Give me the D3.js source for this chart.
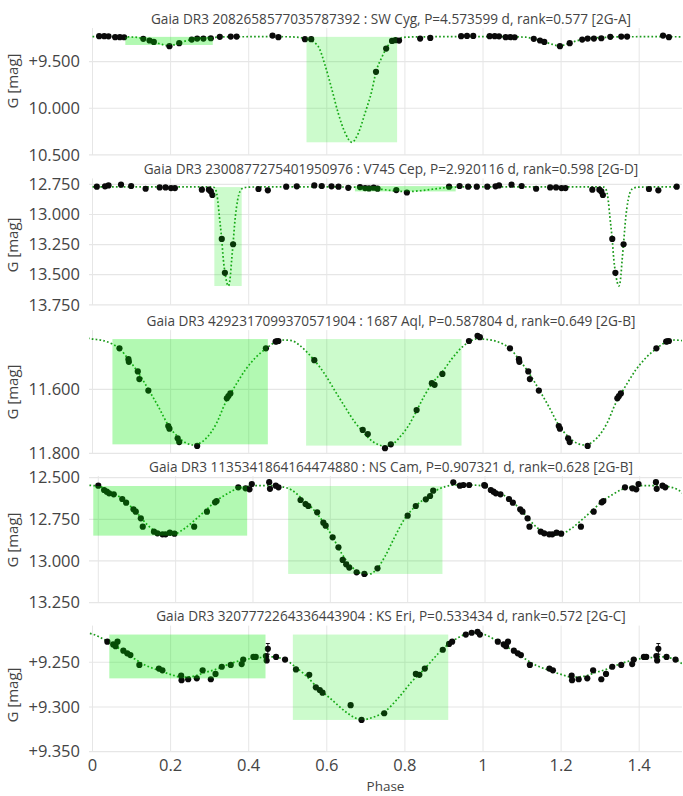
<!DOCTYPE html>
<html><head><meta charset="utf-8">
<script src="https://cdn.jsdelivr.net/npm/d3@7"></script>
<style>body{margin:0;background:#fff} svg{display:block;font-family:"Open Sans",sans-serif}</style>
</head><body><svg id="c" width="683" height="796"></svg>
<script>
// ---------------- data ----------------
const titles = [
  "Gaia DR3 2082658577035787392 : SW Cyg, P=4.573599 d, rank=0.577 [2G-A]",
  "Gaia DR3 2300877275401950976 : V745 Cep, P=2.920116 d, rank=0.598 [2G-D]",
  "Gaia DR3 4292317099370571904 : 1687 Aql, P=0.587804 d, rank=0.649 [2G-B]",
  "Gaia DR3 1135341864164474880 : NS Cam, P=0.907321 d, rank=0.628 [2G-B]",
  "Gaia DR3 3207772264336443904 : KS Eri, P=0.533434 d, rank=0.572 [2G-C]"
];
const xTickValues = [0, 0.2, 0.4, 0.6, 0.8, 1, 1.2, 1.4];
const xTickLabels = ["0", "0.2", "0.4", "0.6", "0.8", "1", "1.2", "1.4"];
const yTickValues = [[9.5, 10, 10.5], [12.75, 13, 13.25, 13.5, 13.75], [11.6, 11.8], [12.5, 12.75, 13, 13.25], [9.25, 9.3, 9.35]];
const yTickLabels = [["+9.500", "10.000", "10.500"], ["12.750", "13.000", "13.250", "13.500", "13.750"], ["11.600", "11.800"], ["12.500", "12.750", "13.000", "13.250"], ["+9.250", "+9.300", "+9.350"]];
const yRanges = [[9.14, 10.5], [12.70, 13.75], [11.415, 11.8], [12.49, 13.25], [9.209, 9.35]];
const xRanges = [[-0.009, 1.5096], [-0.009, 1.5096], [-0.009, 1.5096], [-0.024, 1.5094], [-0.009, 1.5096]];

// observed points (phase 0..1)
const p1Phase = [0.017,0.030,0.041,0.058,0.070,0.081,0.130,0.146,0.157,0.197,0.222,0.254,0.268,0.284,0.303,0.326,0.354,0.369,0.461,0.476,0.544,0.560,0.726,0.752,0.767,0.776,0.785,0.839,0.865,0.944,0.959,0.975];
const p1Mag   = [9.228,9.228,9.229,9.238,9.238,9.239,9.256,9.274,9.289,9.335,9.303,9.264,9.253,9.253,9.250,9.235,9.232,9.232,9.221,9.238,9.260,9.260,9.610,9.360,9.278,9.270,9.275,9.253,9.246,9.228,9.225,9.225];
const p2Phase = [0.011,0.032,0.041,0.073,0.099,0.136,0.172,0.187,0.201,0.211,0.280,0.298,0.303,0.307,0.331,0.339,0.360,0.425,0.449,0.496,0.523,0.568,0.587,0.612,0.630,0.655,0.685,0.698,0.708,0.720,0.730,0.778,0.805,0.913,0.940,0.962,0.984];
const p2Mag   = [12.769,12.766,12.758,12.752,12.763,12.786,12.775,12.775,12.780,12.780,12.794,12.794,12.808,12.838,13.203,13.484,13.247,12.788,12.799,12.769,12.766,12.758,12.763,12.766,12.769,12.778,12.772,12.780,12.783,12.777,12.785,12.797,12.817,12.769,12.763,12.769,12.769];
const p3Phase = [0.069,0.092,0.093,0.116,0.120,0.143,0.194,0.197,0.218,0.222,0.268,0.344,0.348,0.353,0.444,0.469,0.472,0.476,0.568,0.692,0.705,0.749,0.764,0.830,0.869,0.876,0.896,0.964,0.986,0.992];
const p3Mag   = [11.472,11.506,11.514,11.544,11.568,11.604,11.715,11.723,11.753,11.765,11.777,11.628,11.621,11.613,11.472,11.451,11.450,11.449,11.509,11.727,11.740,11.784,11.772,11.665,11.581,11.586,11.552,11.449,11.433,11.437];
const p4Phase = [0.000,0.015,0.022,0.028,0.040,0.062,0.072,0.091,0.097,0.110,0.115,0.144,0.153,0.166,0.174,0.185,0.197,0.248,0.281,0.302,0.306,0.362,0.381,0.391,0.397,0.442,0.444,0.459,0.466,0.523,0.536,0.543,0.566,0.582,0.588,0.606,0.621,0.632,0.641,0.649,0.668,0.688,0.722,0.800,0.821,0.847,0.858,0.866,0.918,0.935,0.944,0.959,0.998];
const p4Mag   = [12.548,12.574,12.584,12.594,12.600,12.628,12.650,12.690,12.704,12.744,12.794,12.824,12.834,12.840,12.840,12.830,12.836,12.794,12.704,12.648,12.640,12.558,12.564,12.570,12.538,12.527,12.567,12.548,12.558,12.634,12.658,12.670,12.708,12.770,12.788,12.858,12.918,12.994,13.020,13.040,13.068,13.078,13.044,12.728,12.670,12.630,12.610,12.578,12.528,12.548,12.544,12.544,12.544];
const p5Phase = [0.038,0.053,0.059,0.064,0.079,0.089,0.097,0.120,0.170,0.179,0.227,0.228,0.245,0.267,0.282,0.303,0.315,0.331,0.354,0.382,0.386,0.412,0.418,0.444,0.446,0.449,0.470,0.493,0.521,0.555,0.572,0.582,0.589,0.661,0.689,0.747,0.828,0.837,0.851,0.897,0.913,0.921,0.956,0.971,0.986,0.992];
const p5Mag   = [9.227,9.230,9.232,9.227,9.237,9.240,9.242,9.253,9.257,9.259,9.265,9.270,9.269,9.268,9.259,9.269,9.263,9.255,9.253,9.252,9.247,9.244,9.244,9.243,9.248,9.235,9.244,9.247,9.258,9.264,9.278,9.281,9.284,9.298,9.3145,9.307,9.263,9.264,9.257,9.236,9.2295,9.227,9.219,9.217,9.216,9.219];
const p5Err   = [0,0,0,0,0,0,0,0,0,0,0,0,0,0,0,0,0,0,0,0,0,0,0,0,0,0.006,0,0,0,0,0,0,0,0.002,0,0,0,0,0,0,0,0,0,0,0,0];

// model curves (phase 0..1)
const m1Phase = [0.000,0.050,0.109,0.130,0.152,0.173,0.197,0.211,0.222,0.237,0.254,0.275,0.305,0.339,0.450,0.500,0.527,0.548,0.566,0.581,0.595,0.612,0.629,0.647,0.664,0.681,0.698,0.715,0.726,0.741,0.752,0.766,0.783,0.805,0.834,0.900,1.000];
const m1Mag   = [9.232,9.233,9.238,9.256,9.281,9.310,9.332,9.318,9.303,9.281,9.264,9.249,9.242,9.235,9.233,9.234,9.240,9.257,9.289,9.360,9.532,9.782,10.050,10.265,10.365,10.265,10.050,9.818,9.610,9.453,9.360,9.282,9.253,9.238,9.235,9.233,9.232];
const m2Phase = [0.000,0.300,0.309,0.3154,0.3205,0.3248,0.3308,0.335,0.3393,0.3436,0.3478,0.3521,0.3564,0.3598,0.365,0.3718,0.3777,0.3863,0.399,0.500,0.672,0.790,0.800,0.930,1.000];
const m2Mag   = [12.770,12.770,12.772,12.794,12.877,13.015,13.203,13.374,13.484,13.561,13.594,13.539,13.374,13.247,13.042,12.877,12.808,12.780,12.772,12.770,12.772,12.808,12.810,12.772,12.770];
const m3Phase = [0.000,0.025,0.050,0.069,0.093,0.116,0.143,0.169,0.194,0.220,0.240,0.256,0.272,0.292,0.318,0.340,0.353,0.370,0.391,0.416,0.444,0.469,0.490,0.510,0.530,0.550,0.568,0.595,0.621,0.647,0.672,0.692,0.710,0.730,0.750,0.770,0.790,0.810,0.830,0.850,0.869,0.896,0.920,0.945,0.970,0.990,1.000];
const m3Mag   = [11.443,11.447,11.458,11.472,11.508,11.546,11.600,11.655,11.712,11.750,11.768,11.774,11.770,11.752,11.705,11.643,11.615,11.580,11.540,11.503,11.473,11.452,11.446,11.448,11.462,11.485,11.509,11.553,11.605,11.656,11.703,11.732,11.756,11.772,11.778,11.770,11.745,11.712,11.667,11.620,11.583,11.545,11.505,11.470,11.448,11.441,11.443];
const m4Phase = [0.000,0.026,0.052,0.078,0.103,0.129,0.155,0.177,0.198,0.224,0.250,0.276,0.302,0.328,0.353,0.379,0.405,0.440,0.474,0.500,0.526,0.552,0.578,0.603,0.629,0.655,0.681,0.698,0.716,0.741,0.767,0.793,0.819,0.845,0.871,0.897,0.922,0.957,0.991,1.000];
const m4Mag   = [12.550,12.580,12.610,12.660,12.720,12.788,12.832,12.846,12.838,12.804,12.754,12.700,12.644,12.604,12.572,12.556,12.548,12.548,12.554,12.574,12.624,12.680,12.754,12.844,12.954,13.034,13.076,13.080,13.060,12.974,12.854,12.744,12.674,12.624,12.580,12.554,12.544,12.544,12.548,12.550];
const m5Phase = [0.000,0.032,0.066,0.100,0.134,0.169,0.203,0.228,0.254,0.288,0.322,0.356,0.390,0.425,0.459,0.493,0.519,0.544,0.578,0.613,0.647,0.672,0.689,0.715,0.749,0.783,0.817,0.851,0.886,0.920,0.954,0.980,1.000];
const m5Mag   = [9.2195,9.225,9.234,9.244,9.253,9.259,9.264,9.2667,9.266,9.2615,9.257,9.251,9.247,9.245,9.244,9.247,9.255,9.264,9.279,9.292,9.305,9.312,9.3145,9.312,9.305,9.290,9.272,9.257,9.240,9.227,9.219,9.217,9.2185];

// eclipse windows: [phaseStart, phaseEnd, magTop, magBottom]; secondary (darker) and primary (lighter)
const secWindows = [[0.084,0.308,9.235,9.322],[0.672,0.930,12.764,12.808],[0.051,0.449,11.443,11.772],[-0.013,0.385,12.550,12.848],[0.043,0.443,9.219,9.268]];
const priWindows = [[0.548,0.780,9.235,10.365],[0.312,0.382,12.772,13.594],[0.547,0.945,11.443,11.776],[0.491,0.890,12.550,13.078],[0.513,0.911,9.219,9.3145]];

// ---------------- layout ----------------
const L = 89, R = 682;
const panelTop = [28, 178.4, 330.1, 476, 625.6];
const panelBottom = [154.9, 304.8, 453.3, 602.6, 751.7];
const yTitleCenter = [81, 245, 392, 540, 695];
const panels = [
  {ph: p1Phase, mg: p1Mag, mph: m1Phase, mmg: m1Mag},
  {ph: p2Phase, mg: p2Mag, mph: m2Phase, mmg: m2Mag},
  {ph: p3Phase, mg: p3Mag, mph: m3Phase, mmg: m3Mag},
  {ph: p4Phase, mg: p4Mag, mph: m4Phase, mmg: m4Mag},
  {ph: p5Phase, mg: p5Mag, mph: m5Phase, mmg: m5Mag, err: p5Err}
];

const svg = d3.select("#c");
const gridColor = "#e6e6e6", textColor = "#444";

panels.forEach((p, i) => {
  const x = d3.scaleLinear().domain(xRanges[i]).range([L, R]);
  const y = d3.scaleLinear().domain(yRanges[i]).range([panelTop[i], panelBottom[i]]);
  const g = svg.append("g");
  const clipId = "clip" + i;
  svg.append("clipPath").attr("id", clipId).append("rect")
    .attr("x", L).attr("y", panelTop[i] - 6).attr("width", R - L).attr("height", panelBottom[i] - panelTop[i] + 8);

  // gridlines
  g.append("g").selectAll("line").data(xTickValues).join("line")
    .attr("x1", d => x(d)).attr("x2", d => x(d))
    .attr("y1", panelTop[i]).attr("y2", panelBottom[i])
    .attr("stroke", gridColor).attr("stroke-width", 1);
  g.append("g").selectAll("line").data(yTickValues[i]).join("line")
    .attr("x1", L).attr("x2", R)
    .attr("y1", d => y(d)).attr("y2", d => y(d))
    .attr("stroke", gridColor).attr("stroke-width", 1.2);

  // y tick labels
  g.append("g").selectAll("text").data(yTickValues[i]).join("text")
    .attr("x", 80).attr("y", d => y(d)).attr("dy", "0.35em")
    .attr("text-anchor", "end").attr("font-size", 16.5).attr("fill", textColor)
    .text((d, k) => yTickLabels[i][k]);

  // y title
  g.append("text").attr("transform", `translate(13,${yTitleCenter[i]}) rotate(-90)`)
    .attr("text-anchor", "middle").attr("dy", "0.35em").attr("font-size", 15).attr("fill", textColor)
    .text("G [mag]");

  // title
  g.append("text").attr("x", 391).attr("y", panelTop[i] - 9).attr("dy", "0.35em")
    .attr("text-anchor", "middle").attr("font-size", 13.6).attr("fill", textColor)
    .text(titles[i]);

  const inner = g.append("g").attr("clip-path", `url(#${clipId})`);
  const [xmin, xmax] = xRanges[i];

  // model curve, repeated by one cycle
  let model = [];
  [-1, 0, 1].forEach(s => p.mph.forEach((ph, k) => model.push([ph + s, p.mmg[k]])));
  model = model.filter(d => d[0] >= xmin - 0.05 && d[0] <= xmax + 0.05).sort((a, b) => a[0] - b[0]);
  model = model.filter((d, k) => k === 0 || d[0] - model[k - 1][0] > 1e-6);
  inner.append("path").datum(model)
    .attr("d", d3.line().x(d => x(d[0])).y(d => y(d[1])).curve(d3.curveMonotoneX))
    .attr("fill", "none").attr("stroke", "#1c9a1c").attr("stroke-width", 1.7)
    .attr("stroke-dasharray", "1.7,2.2");

  // points, repeated by one cycle
  let pts = [];
  [0, 1].forEach(s => p.ph.forEach((ph, k) => pts.push({ph: ph + s, m: p.mg[k], e: p.err ? p.err[k] : 0})));
  pts = pts.filter(d => d.ph >= xmin && d.ph <= xmax);
  inner.append("g").selectAll("path").data(pts.filter(d => d.e > 0)).join("path")
    .attr("d", d => `M${x(d.ph)},${y(d.m - d.e)}V${y(d.m + d.e)}M${x(d.ph) - 2},${y(d.m - d.e)}H${x(d.ph) + 2}M${x(d.ph) - 2},${y(d.m + d.e)}H${x(d.ph) + 2}`)
    .attr("stroke", "#111").attr("stroke-width", 1).attr("fill", "none");
  inner.append("g").selectAll("circle").data(pts).join("circle")
    .attr("cx", d => x(d.ph)).attr("cy", d => y(d.m)).attr("r", 3.1)
    .attr("fill", "#0a0a0a");

  // eclipse windows on top
  const w = [secWindows[i], priWindows[i]];
  inner.append("g").selectAll("rect").data(w).join("rect")
    .attr("x", d => x(d[0])).attr("width", d => x(d[1]) - x(d[0]))
    .attr("y", d => y(d[2])).attr("height", d => y(d[3]) - y(d[2]))
    .attr("fill", (d, k) => k === 0 ? "rgba(0,235,0,0.30)" : "rgba(0,235,0,0.20)");
});

// bottom x axis labels
const xb = d3.scaleLinear().domain(xRanges[4]).range([L, R]);
svg.append("g").selectAll("text").data(xTickValues).join("text")
  .attr("x", d => xb(d)).attr("y", 765.5).attr("dy", "0.35em")
  .attr("text-anchor", "middle").attr("font-size", 16.5).attr("fill", textColor)
  .text((d, k) => xTickLabels[k]);
svg.append("text").attr("x", (L + R) / 2).attr("y", 786).attr("dy", "0.35em")
  .attr("text-anchor", "middle").attr("font-size", 13.5).attr("fill", textColor).text("Phase");
</script></body></html>
